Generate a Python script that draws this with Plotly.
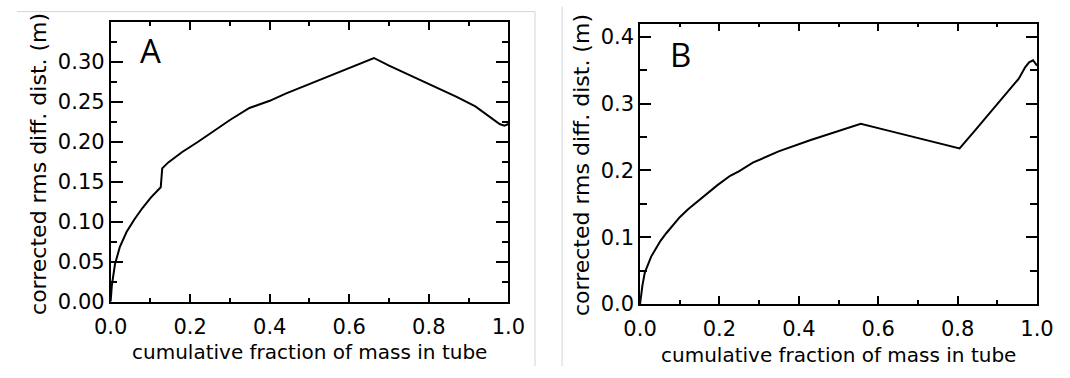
import plotly.graph_objects as go

# Panel A data
xa = [0, 0.003, 0.011, 0.023, 0.04, 0.06, 0.08, 0.101, 0.126, 0.1297,
      0.145, 0.16, 0.18, 0.219, 0.26, 0.30, 0.349, 0.40, 0.44, 0.50, 0.56, 0.62, 0.662, 0.70,
      0.77, 0.83, 0.87, 0.917, 0.95, 0.978, 0.99, 1.0]
ya = [0, 0.02, 0.047, 0.068, 0.087, 0.103, 0.117, 0.13, 0.143, 0.1665,
      0.174, 0.18, 0.187, 0.1995, 0.2137, 0.227, 0.242, 0.251, 0.260, 0.272, 0.284, 0.296, 0.3045, 0.295,
      0.279, 0.265, 0.256, 0.244, 0.232, 0.222, 0.220, 0.222]

# Panel B data
xb = [0, 0.002, 0.006, 0.012, 0.02, 0.028, 0.04, 0.052, 0.066, 0.085, 0.10, 0.121, 0.145, 0.170,
      0.195, 0.227, 0.25, 0.284, 0.349, 0.43, 0.495, 0.556, 0.62, 0.70, 0.76, 0.805, 0.844, 0.885,
      0.925, 0.954, 0.97, 0.98, 0.99, 1.0]
yb = [0, 0.012, 0.028, 0.047, 0.060, 0.071, 0.083, 0.095, 0.106, 0.12, 0.13, 0.142, 0.154, 0.166,
      0.178, 0.192, 0.199, 0.2116, 0.2285, 0.2455, 0.2576, 0.2698, 0.2604, 0.2486, 0.2397, 0.233, 0.260, 0.289,
      0.3157, 0.3375, 0.3545, 0.362, 0.365, 0.357]

xtitle = "cumulative fraction of mass in tube"
ytitle = "corrected rms diff. dist. (m)"
panel_labels = ["A", "B"]

W, H = 1070, 378
FONT = "DejaVu Sans"

def px(v):
    return v / W

def py(v):
    return 1 - v / H

fig = go.Figure()
fig.add_trace(go.Scatter(x=xa, y=ya, mode="lines", line=dict(color="black", width=2),
                         xaxis="x", yaxis="y", showlegend=False))
fig.add_trace(go.Scatter(x=xb, y=yb, mode="lines", line=dict(color="black", width=2),
                         xaxis="x2", yaxis="y2", showlegend=False))

common = dict(showline=True, linecolor="black", linewidth=1.6, mirror="allticks",
              ticks="inside", tickcolor="black", tickwidth=1.5, showgrid=False, zeroline=False,
              tickfont=dict(family=FONT, size=21, color="black"))

xcommon = dict(common, range=[0, 1], tick0=0, dtick=0.2, tickformat=".1f", ticklen=8,
               ticklabelstandoff=5,
               minor=dict(ticks="inside", ticklen=4, dtick=0.1, tick0=0, tickcolor="black", tickwidth=1.5))

fig.update_layout(
    width=W, height=H, margin=dict(l=0, r=0, t=0, b=0),
    paper_bgcolor="white", plot_bgcolor="white",
    xaxis=dict(xcommon, domain=[px(96.7), px(507.5)], anchor="y"),
    yaxis=dict(common, domain=[py(311.5), py(22.7)], anchor="x", range=[0, 0.3495],
               tick0=0, dtick=0.05, tickformat=".2f", ticklen=13,
               minor=dict(ticks="inside", ticklen=7, dtick=0.025, tick0=0, tickcolor="black", tickwidth=1.5)),
    xaxis2=dict(xcommon, domain=[px(643.5), px(1053.5)], anchor="y2"),
    yaxis2=dict(common, domain=[py(314), py(24.3)], anchor="x2", range=[0, 0.42],
                tick0=0, dtick=0.1, tickformat=".1f", ticklen=11,
                minor=dict(ticks="inside", ticklen=7.5, dtick=0.05, tick0=0, tickcolor="black", tickwidth=1.5)),
)

anns = [
    dict(text=xtitle, x=px(302), y=py(364), xanchor="center", yanchor="middle", size=20),
    dict(text=xtitle, x=px(848), y=py(367), xanchor="center", yanchor="middle", size=20),
    dict(text=ytitle, x=px(22), y=py(169), xanchor="center", yanchor="middle", textangle=-90, size=22),
    dict(text=ytitle, x=px(583), y=py(170), xanchor="center", yanchor="middle", textangle=-90, size=22),
]
for a in anns:
    s = a.pop("size")
    a.update(xref="paper", yref="paper", showarrow=False,
             font=dict(family=FONT, size=s, color="black"))
    fig.add_annotation(**a)

fig.add_annotation(text=panel_labels[0], x=px(137.5), y=py(52), xref="paper", yref="paper",
                   showarrow=False, xanchor="center", yanchor="middle",
                   font=dict(family="Open Sans", size=33, color="black"))
fig.add_annotation(text=panel_labels[1], x=px(685), y=py(56.5), xref="paper", yref="paper",
                   showarrow=False, xanchor="center", yanchor="middle",
                   font=dict(family="Open Sans", size=33, color="black"))

# light frame lines around the panels
gray = dict(color="#d4d4d4", width=1)
fig.add_shape(type="line", xref="paper", yref="paper", x0=0, x1=px(535), y0=py(12), y1=py(12), line=gray)
fig.add_shape(type="line", xref="paper", yref="paper", x0=px(535), x1=px(535), y0=py(12), y1=0, line=gray)
fig.add_shape(type="line", xref="paper", yref="paper", x0=px(563), x1=px(563), y0=py(7), y1=0, line=gray)

fig.write_html("out.html")
